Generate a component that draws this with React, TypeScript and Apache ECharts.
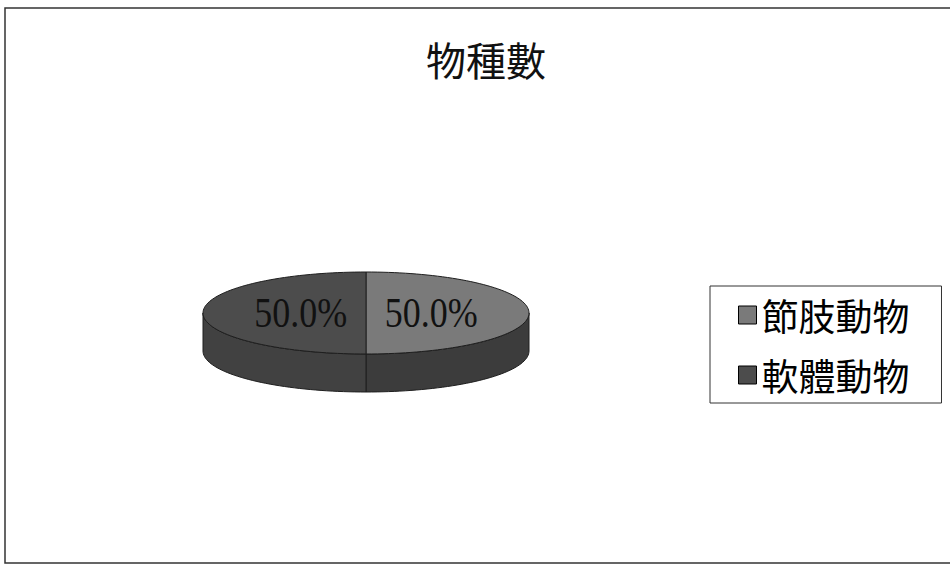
import React, { useEffect, useRef } from "react";
import * as echarts from "echarts";

const titleText = "物種數";
const categories = ["節肢動物", "軟體動物"];
const values = [50, 50];
const topColors = ["#7a7a7a", "#4c4c4c"];
const sideColors = ["#3c3c3c", "#414141"];

export default function App() {
  const ref = useRef<HTMLDivElement>(null);

  useEffect(() => {
    if (!ref.current) return;
    const chart = echarts.init(ref.current, null, { renderer: "svg" });

    const total = values.reduce((a, b) => a + b, 0);
    const starts: number[] = [];
    let acc = 0;
    values.forEach((v) => {
      starts.push((acc / total) * 360);
      acc += v;
    });

    const cx = 366;
    const cy = 313;
    const rx = 163;
    const ry = 41;
    const depth = 38;

    const pt = (deg: number, dy = 0) => {
      const r = (deg * Math.PI) / 180;
      return [cx + rx * Math.sin(r), cy - ry * Math.cos(r) + dy];
    };
    const arc = (a: number, b: number, dy = 0) => {
      const pts: number[][] = [];
      const n = Math.max(2, Math.ceil((b - a) / 2));
      for (let k = 0; k <= n; k++) pts.push(pt(a + ((b - a) * k) / n, dy));
      return pts;
    };

    const series = categories.map((name, i) => ({
      type: "custom",
      name,
      coordinateSystem: "none",
      data: [values[i]],
      itemStyle: { color: topColors[i] },
      renderItem: (_params: any, api: any) => {
        const v = api.value(0);
        const a1 = starts[i];
        const a2 = a1 + (v / total) * 360;
        const children: any[] = [];
        const lo = Math.max(a1, 90);
        const hi = Math.min(a2, 270);
        if (hi > lo) {
          const topPts = arc(lo, hi);
          const botPts = arc(lo, hi, depth).reverse();
          children.push({
            type: "polygon",
            z2: 0,
            shape: { points: topPts.concat(botPts) },
            style: { fill: sideColors[i], stroke: "#1e1e1e", lineWidth: 1 },
          });
        }
        children.push({
          type: "polygon",
          z2: 10,
          shape: { points: [[cx, cy]].concat(arc(a1, a2)) },
          style: { fill: topColors[i], stroke: "#1e1e1e", lineWidth: 1 },
        });
        const mid = (((a1 + a2) / 2) * Math.PI) / 180;
        children.push({
          type: "text",
          z2: 20,
          x: cx + 0.4 * rx * Math.sin(mid),
          y: cy - 0.4 * ry * Math.cos(mid),
          scaleY: 1.2,
          style: {
            x: 0,
            y: 0,
            text: ((v / total) * 100).toFixed(1) + "%",
            fill: "#111",
            font: "normal 36px Liberation Serif, serif",
            align: "center",
            verticalAlign: "middle",
          },
        });
        return { type: "group", children };
      },
    }));

    chart.setOption({
      animation: false,
      backgroundColor: "#ffffff",
      title: {
        text: titleText,
        left: 421,
        top: 34,
        textStyle: {
          fontFamily: "Noto Sans CJK TC, sans-serif",
          fontSize: 40,
          fontWeight: "normal",
          color: "#111",
        },
      },
      legend: {
        orient: "vertical",
        left: 710,
        top: 286,
        data: categories,
        icon: "rect",
        itemWidth: 18,
        itemHeight: 18,
        itemGap: 16,
        padding: [7, 32, 6, 28],
        borderColor: "#333",
        borderWidth: 1,
        selectedMode: false,
        itemStyle: { borderColor: "#000", borderWidth: 1 },
        textStyle: {
          fontFamily: "Noto Sans CJK TC, sans-serif",
          fontSize: 37,
          lineHeight: 44,
          color: "#000",
        },
      },
      graphic: [
        {
          type: "rect",
          shape: { x: 5, y: 8, width: 1000, height: 555 },
          style: { fill: "none", stroke: "#333", lineWidth: 1.5 },
          silent: true,
        },
      ],
      series,
    });

    return () => chart.dispose();
  }, []);

  return (
    <div
      ref={ref}
      style={{ position: "fixed", left: 0, top: 0, width: 950, height: 565, background: "#fff" }}
    />
  );
}
